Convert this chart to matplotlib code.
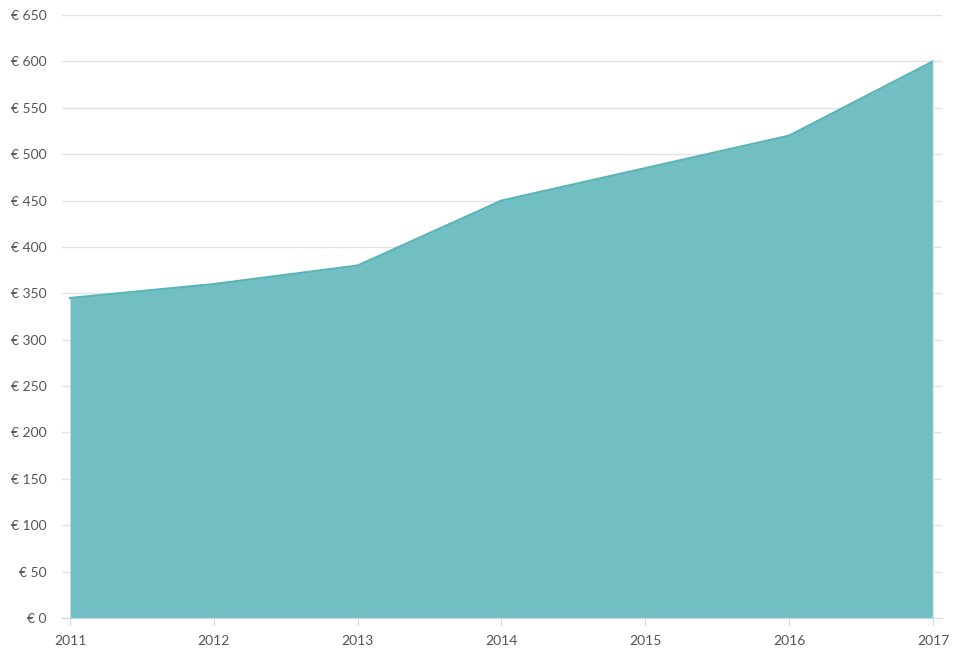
import matplotlib
matplotlib.use("Agg")
import matplotlib.pyplot as plt

# --- data ---
years = [2011, 2012, 2013, 2014, 2015, 2016, 2017]
values = [345, 360, 380, 450, 485, 520, 600]
y_ticks = list(range(0, 651, 50))

FILL = "#72bfc3"
LINE = "#5ab3b8"
TEXT = "#555555"
GRID = "#e3e3e3"

plt.rcParams["font.family"] = ["Lato", "DejaVu Sans"]

fig = plt.figure(figsize=(9.78, 6.48), dpi=100)
ax = fig.add_axes([62 / 978, 30 / 648, 880 / 978, 603 / 648])

ax.fill_between(years, values, 0, color=FILL, lw=0, zorder=2)
ax.plot(years, values, color=LINE, lw=1.5, zorder=3)
ax.plot([years[-1], years[-1]], [0, values[-1]], color="#d9eef0", lw=1, zorder=3)

ax.set_xlim(years[0] - 0.056, years[-1] + 0.063)
ax.set_ylim(0, 650)

ax.set_yticks(y_ticks)
ax.set_yticklabels([f"€ {v}" for v in y_ticks])
ax.set_xticks(years)
ax.set_xticklabels([str(y) for y in years])

ax.grid(axis="y", color=GRID, lw=1, zorder=0)
ax.set_axisbelow(True)

for s in ["top", "right", "left"]:
    ax.spines[s].set_visible(False)
ax.spines["bottom"].set_color("#ccd6eb")
ax.spines["bottom"].set_zorder(4)

ax.tick_params(axis="y", length=0, pad=11, labelsize=10, labelcolor=TEXT)
ax.tick_params(axis="x", length=5, color="#ccd6eb", pad=7, labelsize=10, labelcolor=TEXT)

fig.savefig("out.png", dpi=100)
